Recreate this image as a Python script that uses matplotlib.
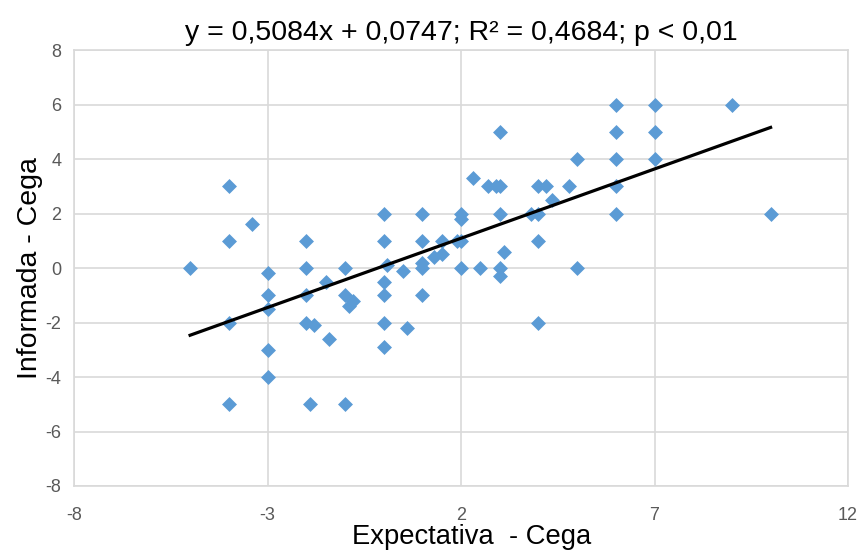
import matplotlib
matplotlib.use("Agg")
import matplotlib.pyplot as plt
import numpy as np

plt.rcParams['font.family'] = ['Liberation Sans', 'DejaVu Sans']
plt.rcParams['axes.unicode_minus'] = False

# Data
x_vals = [-5, -4, -4, -3.4, -3, -3, -3, -3, -3, -4, -4,
          -2, -2, -2, -2, -1.8, -1.9, -1.5, -1.4, -1, -1, -1, -0.9, -0.8,
          0, 0, 0.1, 0, 0, 0, 0, 0.5, 0.6,
          1, 1, 1, 1, 1, 1.3, 1.5, 1.5,
          2, 2, 1.9, 2, 2, 2.3, 2.5, 2.7, 2.9, 3, 3, 3, 3, 3.1, 3,
          3.8, 4, 4, 4.2, 4.35, 4, 4, 4.8, 5, 5,
          6, 6, 6, 6, 6, 7, 7, 7, 9, 10]
y_vals = [0, 3, 1, 1.6, -0.2, -1, -1.5, -3, -4, -2, -5,
          1, 0, -1, -2, -2.1, -5, -0.5, -2.6, 0, -1, -5, -1.4, -1.2,
          2, 1, 0.1, -0.5, -1, -2, -2.9, -0.1, -2.2,
          2, 1, 0.2, 0, -1, 0.4, 0.5, 1,
          2, 1.8, 1, 1, 0, 3.3, 0, 3, 3, 3, 2, 5, 0, 0.6, -0.3,
          2, 2, 3, 3, 2.5, 1, -2, 3, 4, 0,
          6, 5, 4, 3, 2, 6, 5, 4, 6, 2]
slope = 0.5084
intercept = 0.0747
title_text = "y = 0,5084x + 0,0747; R² = 0,4684; p < 0,01"
x_ticks = [-8, -3, 2, 7, 12]
y_ticks = [-8, -6, -4, -2, 0, 2, 4, 6, 8]

fig = plt.figure(figsize=(8.61, 5.52), dpi=100)
ax = fig.add_axes([74/861, 1-486/552, (848-74)/861, (486-50)/552])

ax.scatter(x_vals, y_vals, marker='D', s=58, color='#5B9BD5', zorder=3, linewidths=0)
xl = np.array([min(x_vals), max(x_vals)])
ax.plot(xl, slope*xl + intercept, color='black', lw=2.3, zorder=4)

ax.set_xlim(-8, 12)
ax.set_ylim(-8, 8)
ax.set_xticks(x_ticks)
ax.set_yticks(y_ticks)
ax.grid(True, color='#D9D9D9', lw=1.2, zorder=0)
ax.set_axisbelow(True)
for s in ax.spines.values():
    s.set_color('#D9D9D9')
    s.set_linewidth(1.2)
ax.tick_params(length=0, labelsize=13, colors='#595959')
ax.tick_params(axis='x', pad=15)
ax.tick_params(axis='y', pad=9)

ax.set_title(title_text, fontsize=20.5, pad=7)
ax.set_xlabel("Expectativa  - Cega", fontsize=19.7, labelpad=0)
ax.xaxis.label.set_x(0.514)
ax.set_ylabel("Informada - Cega", fontsize=20.5, labelpad=2)

fig.savefig("out.png", dpi=100)
